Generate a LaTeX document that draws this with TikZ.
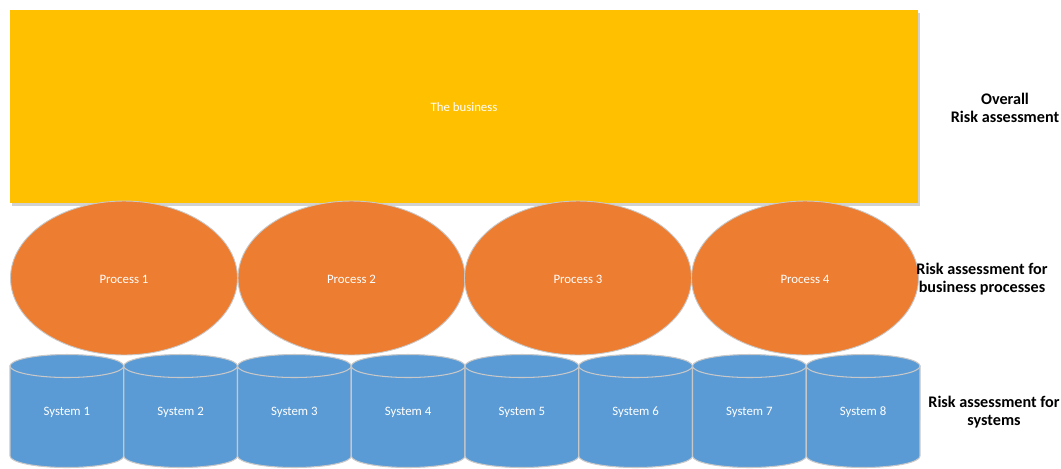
\documentclass[tikz,border=0pt]{standalone}
\usepackage{fontspec}
\setmainfont{Carlito}
\definecolor{biz}{HTML}{FFC000}
\definecolor{proc}{HTML}{ED7D31}
\definecolor{sys}{HTML}{5B9BD5}
\definecolor{edge}{HTML}{C8C8C8}
\begin{document}
\begin{tikzpicture}[x=0.02cm,y=-0.02cm,
  inner/.style={text=white,font=\fontsize{7.3}{8}\selectfont},
  side/.style={font=\bfseries\fontsize{9.2}{10.4}\selectfont,align=center,text=black},
  shadowfill/.style={fill=black!18}]
\useasboundingbox (0,0) rectangle (1061,468);
% business
\fill[shadowfill] (12,13) rectangle (920,206);
\fill[biz] (10,10) rectangle (918,203);
\node[inner] (biz) at (464,107) {The business};
% processes
\foreach \i/\cx in {1/124,2/351.5,3/578,4/805}{
  \filldraw[fill=proc,draw=edge,line width=0.5pt] (\cx,278) ellipse [x radius=2.27cm, y radius=1.54cm];
  \node[inner] (p\i) at (\cx,279) {Process \i};
}
% systems
\foreach \i in {1,...,8}{
  \pgfmathsetmacro\xa{10+113.75*(\i-1)}
  \pgfmathsetmacro\xb{\xa+113.75}
  \pgfmathsetmacro\cx{\xa+56.875}
  \filldraw[fill=sys,draw=edge,line width=0.6pt] (\xa,366) -- (\xa,456)
     arc[start angle=180,end angle=360,x radius=1.1375cm,y radius=0.23cm] -- (\xb,366) -- cycle;
  \filldraw[fill=sys,draw=edge,line width=0.6pt] (\cx,366) ellipse [x radius=1.1375cm, y radius=0.23cm];
  \node[inner] (s\i) at (\cx,412) {System \i};
}
% side labels
\node[side] (l1) at (1005,108) {Overall\\Risk assessment};
\node[side] (l2) at (982,279) {Risk assessment for\\business processes};
\node[side] (l3) at (994,412) {Risk assessment for\\systems};
\end{tikzpicture}
\end{document}
